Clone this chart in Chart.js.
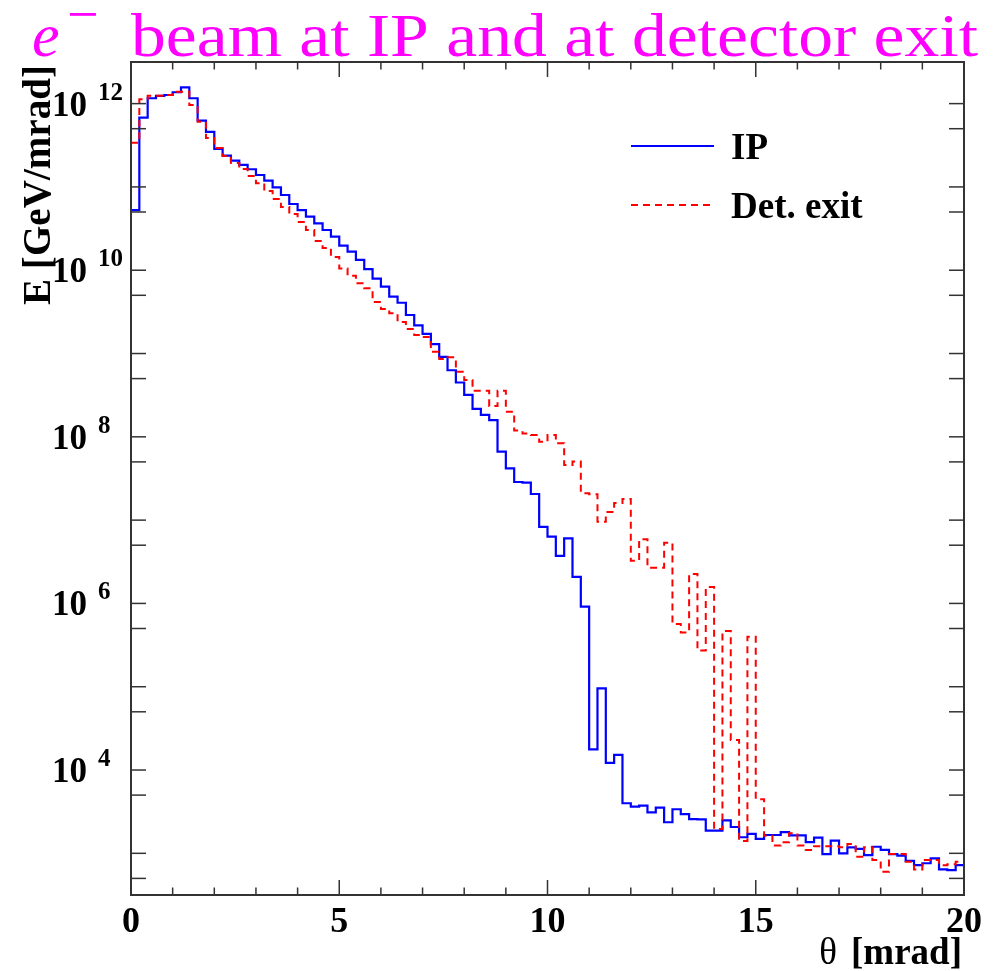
<!DOCTYPE html>
<html lang="en">
<head>
  <meta charset="UTF-8" />
  <title>e- beam at IP and at detector exit</title>
  <script src="https://cdn.jsdelivr.net/npm/chart.js"></script>
  <style>
    html, body {
      margin: 0;
      padding: 0;
      background: #ffffff;
    }

    #wrap {
      width: 1001px;
      height: 971px;
      position: relative;
    }
  </style>
</head>
<body>
  <div id="wrap">
    <canvas id="histo"></canvas>
  </div>

  <script>
    // histogram: 100 bins of 0.2 mrad from 0 to 20 mrad
    const thetaMin = 0;
    const thetaMax = 20;
    const binWidth = 0.2;

    // energy per bin [GeV/mrad]
    const ipEnergy = [
      5.28e10, 6.78e11, 1.16e12, 1.24e12, 1.27e12, 1.37e12, 1.57e12, 1.16e12, 6.24e11, 4.57e11,
      2.86e11, 2.37e11, 2.07e11, 1.84e11, 1.63e11, 1.39e11, 1.19e11, 9.9e10, 8.0e10, 6.24e10,
      5.28e10, 4.40e10, 3.66e10, 3.04e10, 2.53e10, 1.97e10, 1.67e10, 1.33e10, 1.03e10, 7.92e9,
      6.35e9, 4.81e9, 4.07e9, 2.90e9, 2.18e9, 1.72e9, 1.30e9, 9.1e8, 6.30e8, 4.49e8,
      3.18e8, 2.16e8, 1.83e8, 1.59e8, 6.64e7, 4.19e7, 2.87e7, 2.82e7, 2.06e7, 8.28e6,
      6.32e6, 3.72e6, 6.05e6, 2.08e6, 9.14e5, 1.77e4, 9.57e4, 1.22e4, 1.52e4, 3.99e3,
      3.63e3, 3.73e3, 3.11e3, 3.53e3, 2.36e3, 3.38e3, 2.96e3, 2.58e3, 2.56e3, 1.87e3,
      1.87e3, 2.48e3, 2.07e3, 1.56e3, 1.71e3, 1.49e3, 1.66e3, 1.66e3, 1.80e3, 1.64e3,
      1.64e3, 1.36e3, 1.54e3, 980, 1.42e3, 1.0e3, 1.18e3, 1.13e3, 950, 1.20e3,
      1.10e3, 980, 940, 810, 720, 760, 870, 640, 630, 720
    ];

    const exitEnergy = [
      3.40e11, 1.13e12, 1.24e12, 1.24e12, 1.27e12, 1.39e12, 1.39e12, 9.6e11, 6.07e11, 3.87e11,
      2.94e11, 2.35e11, 1.94e11, 1.64e11, 1.35e11, 1.11e11, 8.93e10, 7.16e10, 5.74e10, 4.73e10,
      3.79e10, 3.04e10, 2.24e10, 1.85e10, 1.44e10, 1.05e10, 8.61e9, 6.97e9, 6.07e9, 4.16e9,
      3.43e9, 3.04e9, 2.39e9, 1.97e9, 1.67e9, 1.58e9, 1.05e9, 8.61e8, 9.02e8, 6.05e8,
      4.81e8, 3.58e8, 3.58e8, 2.34e8, 3.58e8, 2.00e8, 1.19e8, 1.10e8, 1.05e8, 8.75e7,
      1.05e8, 8.37e7, 4.59e7, 5.04e7, 2.10e7, 2.05e7, 9.59e6, 1.25e7, 1.60e7, 1.79e7,
      3.26e6, 5.89e6, 2.69e6, 2.69e6, 5.36e6, 5.66e5, 4.48e5, 2.26e6, 2.72e5, 1.57e6,
      1.96e3, 4.67e5, 2.30e4, 1.41e3, 3.99e5, 4.46e3, 1.62e3, 1.24e3, 1.36e3, 1.74e3,
      1.24e3, 1.10e3, 1.22e3, 1.22e3, 1.22e3, 1.18e3, 1.29e3, 910, 1.18e3, 830,
      600, 980, 980, 790, 640, 830, 830, 720, 740, 790
    ];

    // axis ticks
    const xLabelTicks = [0, 5, 10, 15, 20];
    const yLabelPowers = [4, 6, 8, 10, 12];
    const yTickValues = [
      5e2, 1e3, 5e3, 1e4, 5e4, 1e5, 5e5, 1e6, 5e6, 1e7,
      5e7, 1e8, 5e8, 1e9, 5e9, 1e10, 5e10, 1e11, 5e11, 1e12
    ];
    const yMin = 316;
    const yMax = 3.16e12;

    const SERIF = '"Liberation Serif", "Times New Roman", serif';

    // bin low edges plus the last upper edge, for a stepped line
    function histPoints(vals) {
      const pts = vals.map((v, i) => ({ x: thetaMin + i * binWidth, y: v }));
      pts.push({ x: thetaMax, y: vals[vals.length - 1] });
      return pts;
    }

    function fitText(ctx, text, x, y, width) {
      const w = ctx.measureText(text).width;
      ctx.save();
      ctx.translate(x, y);
      ctx.scale(width / w, 1);
      ctx.fillText(text, 0, 0);
      ctx.restore();
    }

    function line(ctx, x1, y1, x2, y2) {
      ctx.beginPath();
      ctx.moveTo(x1, y1);
      ctx.lineTo(x2, y2);
      ctx.stroke();
    }

    // ROOT-like frame, ticks on all sides, labels, legend and title
    const rootFrame = {
      id: 'rootFrame',
      afterDatasetsDraw(chart) {
        const { ctx, chartArea: a, scales: { x, y } } = chart;
        ctx.save();

        ctx.strokeStyle = '#333333';
        ctx.lineWidth = 2;
        ctx.strokeRect(a.left, a.top, a.right - a.left, a.bottom - a.top);

        ctx.lineWidth = 1.5;
        for (let v = thetaMin; v <= thetaMax; v += 1) {
          const px = x.getPixelForValue(v);
          const len = v % 5 === 0 ? 15 : 7.5;
          line(ctx, px, a.bottom, px, a.bottom - len);
          line(ctx, px, a.top, px, a.top + len);
        }
        yTickValues.forEach(v => {
          const py = y.getPixelForValue(v);
          line(ctx, a.left, py, a.left + 15, py);
          line(ctx, a.right, py, a.right - 15, py);
        });

        ctx.fillStyle = '#000000';

        // x tick labels
        ctx.font = 'bold 36px ' + SERIF;
        ctx.textAlign = 'center';
        ctx.textBaseline = 'alphabetic';
        xLabelTicks.forEach(v => {
          ctx.fillText(String(v), x.getPixelForValue(v), 932);
        });

        // y tick labels 10^n
        yLabelPowers.forEach(p => {
          const py = y.getPixelForValue(Math.pow(10, p));
          ctx.font = 'bold 35px ' + SERIF;
          ctx.textAlign = 'right';
          ctx.fillText('10', 87, py + 12);
          ctx.font = 'bold 25px ' + SERIF;
          ctx.textAlign = 'left';
          ctx.fillText(String(p), 98, py - 4);
        });

        // x axis title
        ctx.font = 'bold 37px ' + SERIF;
        ctx.textAlign = 'right';
        ctx.fillText('[mrad]', 962, 964);
        ctx.font = '37px ' + SERIF;
        ctx.fillText('\u03b8', 837, 964);

        // y axis title
        ctx.save();
        ctx.translate(50, 305);
        ctx.rotate(-Math.PI / 2);
        ctx.font = 'bold 39px ' + SERIF;
        ctx.textAlign = 'left';
        fitText(ctx, 'E [GeV/mrad]', 0, 0, 240);
        ctx.restore();

        // legend
        ctx.lineWidth = 2;
        ctx.strokeStyle = '#0000ff';
        line(ctx, 631, 146, 714, 146);
        ctx.strokeStyle = '#ff0000';
        ctx.setLineDash([7, 5]);
        line(ctx, 631, 205, 714, 205);
        ctx.setLineDash([]);
        ctx.font = 'bold 37px ' + SERIF;
        ctx.textAlign = 'left';
        ctx.fillText('IP', 731, 159);
        ctx.fillText('Det. exit', 731, 218);

        // title
        ctx.fillStyle = '#ff00ff';
        ctx.font = 'italic 62px ' + SERIF;
        ctx.fillText('e', 32, 56);
        ctx.font = '56px ' + SERIF;
        ctx.fillText('\u2212', 67, 33);
        ctx.font = '62px ' + SERIF;
        fitText(ctx, 'beam at IP and at detector exit', 131, 56, 847);

        ctx.restore();
      }
    };

    const ctx = document.getElementById('histo').getContext('2d');

    new Chart(ctx, {
      type: 'line',
      data: {
        datasets: [
          {
            label: 'IP',
            data: histPoints(ipEnergy),
            borderColor: '#0000ff',
            borderWidth: 2.2,
            stepped: 'before',
            pointRadius: 0,
            fill: false,
            order: 1
          },
          {
            label: 'Det. exit',
            data: histPoints(exitEnergy),
            borderColor: '#ff0000',
            borderWidth: 2,
            borderDash: [7, 5],
            stepped: 'before',
            pointRadius: 0,
            fill: false,
            order: 0
          }
        ]
      },
      options: {
        responsive: true,
        maintainAspectRatio: false,
        animation: false,
        layout: {
          padding: { left: 131, top: 62, right: 37, bottom: 76 }
        },
        plugins: {
          legend: { display: false },
          tooltip: { enabled: false },
          title: { display: false }
        },
        scales: {
          x: { type: 'linear', min: thetaMin, max: thetaMax, display: false },
          y: { type: 'logarithmic', min: yMin, max: yMax, display: false }
        }
      },
      plugins: [rootFrame]
    });
  </script>
</body>
</html>
